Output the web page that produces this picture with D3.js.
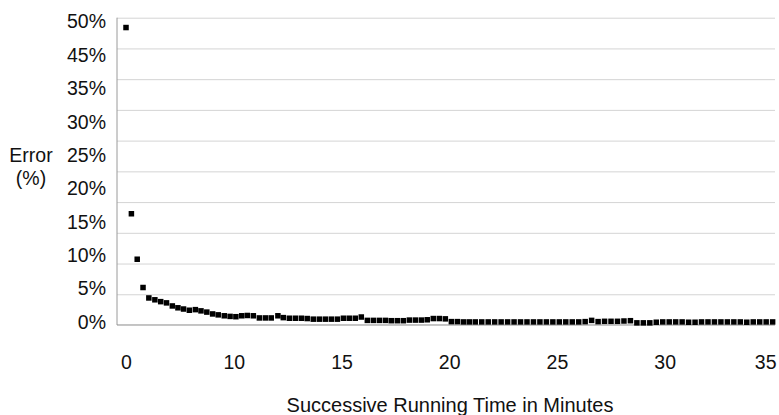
<!DOCTYPE html>
<html>
<head>
<meta charset="utf-8">
<script src="https://cdn.jsdelivr.net/npm/d3@7"></script>
<style>
  html, body { margin: 0; padding: 0; background: #fff; }
  svg { display: block; font-family: "Liberation Sans", Arial, sans-serif; }
  .grid line { stroke: #d4d4d4; stroke-width: 1; }
  .tick-label text { fill: #111; font-size: 19.5px; }
  .axis-title { fill: #111; }
</style>
</head>
<body>
<svg id="chart"></svg>
<script>
// Successive running time (minutes) and error (%)
const times = [
  0.00, 0.25, 0.52, 0.79, 1.06, 1.34, 1.61, 1.88, 2.15, 2.41,
  2.67, 2.94, 3.22, 3.48, 3.75, 4.02, 4.28, 4.56, 4.83, 5.10,
  5.37, 5.63, 5.91, 6.19, 6.47, 6.74, 7.05, 7.30, 7.58, 7.86,
  8.14, 8.41, 8.69, 8.97, 9.25, 9.53, 9.81, 10.09, 10.36, 10.64,
  10.92, 11.20, 11.48, 11.76, 12.04, 12.31, 12.59, 12.87, 13.15, 13.43,
  13.71, 13.98, 14.26, 14.54, 14.82, 15.10, 15.38, 15.66, 15.93, 16.21,
  16.51, 16.81, 17.11, 17.41, 17.71, 18.01, 18.31, 18.61, 18.91, 19.21,
  19.51, 19.81, 20.11, 20.41, 20.71, 21.01, 21.31, 21.61, 21.91, 22.21,
  22.51, 22.81, 23.11, 23.41, 23.71, 24.01, 24.31, 24.61, 24.91, 25.21,
  25.51, 25.81, 26.11, 26.41, 26.71, 27.01, 27.31, 27.61, 27.91, 28.21,
  28.51, 28.81, 29.11, 29.41, 29.71, 30.01
];
const errors = [
  48.4, 18.1, 10.7, 6.1, 4.4, 4.1, 3.8, 3.6, 3.1, 2.8,
  2.6, 2.4, 2.5, 2.3, 2.1, 1.8, 1.65, 1.5, 1.4, 1.35,
  1.5, 1.55, 1.5, 1.15, 1.15, 1.15, 1.5, 1.2, 1.1, 1.1,
  1.1, 1.05, 0.95, 0.95, 0.95, 0.95, 0.95, 1.1, 1.1, 1.1,
  1.3, 0.75, 0.75, 0.75, 0.75, 0.7, 0.7, 0.7, 0.8, 0.8,
  0.8, 0.85, 1.05, 1.05, 1.0, 0.55, 0.55, 0.5, 0.5, 0.5,
  0.5, 0.5, 0.5, 0.5, 0.5, 0.5, 0.5, 0.5, 0.5, 0.5,
  0.5, 0.5, 0.5, 0.5, 0.5, 0.5, 0.55, 0.75, 0.55, 0.6,
  0.6, 0.6, 0.65, 0.7, 0.35, 0.35, 0.35, 0.45, 0.5, 0.5,
  0.5, 0.5, 0.45, 0.45, 0.5, 0.5, 0.5, 0.5, 0.5, 0.5,
  0.5, 0.45, 0.5, 0.5, 0.5, 0.5
];

// tick labels exactly as printed on the original (they skip 40% and 5)
const xTickValues = [0, 5, 10, 15, 20, 25, 30];
const xTickLabels = ['0', '10', '15', '20', '25', '30', '35'];
const yGridValues = [5, 10, 15, 20, 25, 30, 35, 40, 45, 50];
const yTickLabels = ['50%', '45%', '35%', '30%', '25%', '20%', '15%', '10%', '5%', '0%'];

const xTitle = 'Successive Running Time in Minutes';
const yTitle = ['Error', '(%)'];

const config = {
  containerWidth: 779,
  containerHeight: 415,
  margin: {top: 17.7, right: 4, bottom: 90, left: 117},
  markerSize: 5.5
};

const width = config.containerWidth - config.margin.left - config.margin.right;
const height = config.containerHeight - config.margin.top - config.margin.bottom;

const svg = d3.select('#chart')
    .attr('width', config.containerWidth)
    .attr('height', config.containerHeight);

const chart = svg.append('g')
    .attr('transform', `translate(${config.margin.left},${config.margin.top})`);

// scales
const xScale = d3.scaleLinear()
    .domain([-0.418, 30.12])
    .range([0, width]);

const yScale = d3.scaleLinear()
    .domain([0, 50])
    .range([height, 0]);

// labels are spaced on their own, independent of the gridlines
const yLabelScale = d3.scalePoint()
    .domain(yTickLabels)
    .range([21.7 - config.margin.top, 322 - config.margin.top]);

// horizontal gridlines
chart.append('g')
    .attr('class', 'grid')
    .call(d3.axisLeft(yScale).tickValues(yGridValues).tickSize(-width).tickFormat(''))
    .call(g => g.select('.domain').remove());

// axis lines
chart.append('line')
    .attr('x1', 0).attr('x2', 0)
    .attr('y1', 0).attr('y2', height)
    .attr('stroke', '#9a9a9a');
chart.append('line')
    .attr('x1', 0).attr('x2', width)
    .attr('y1', yScale(0)).attr('y2', yScale(0))
    .attr('stroke', '#8a8a8a');

// y tick labels
chart.append('g')
    .attr('class', 'tick-label')
    .attr('transform', 'translate(-11,0)')
    .call(d3.axisLeft(yLabelScale).tickSize(0).tickPadding(0))
    .call(g => g.select('.domain').remove())
    .call(g => g.selectAll('text').attr('font-family', null).attr('font-size', null));

// x tick labels
const xAxisG = chart.append('g')
    .attr('class', 'tick-label')
    .attr('transform', `translate(0,${height})`)
    .call(d3.axisBottom(xScale)
        .tickValues(xTickValues)
        .tickSize(0)
        .tickPadding(30.5)
        .tickFormat((d, i) => xTickLabels[i]))
    .call(g => g.select('.domain').remove())
    .call(g => g.selectAll('text').attr('font-family', null).attr('font-size', null));

// last label would run off the page, keep it inside like the original
xAxisG.selectAll('.tick').filter((d, i, n) => i === n.length - 1)
    .select('text')
    .attr('text-anchor', 'end')
    .attr('x', width + 1 - xScale(xTickValues[xTickValues.length - 1]));

// points
chart.selectAll('.point')
    .data(times.map((t, i) => ({t: t, v: errors[i]})))
    .join('rect')
    .attr('class', 'point')
    .attr('x', d => xScale(d.t) - config.markerSize / 2)
    .attr('y', d => yScale(d.v) - config.markerSize / 2)
    .attr('width', config.markerSize)
    .attr('height', config.markerSize)
    .attr('fill', '#000');

// titles
svg.append('text')
    .attr('class', 'axis-title')
    .attr('x', 450)
    .attr('y', 411.5)
    .attr('text-anchor', 'middle')
    .attr('font-size', '20px')
    .text(xTitle);

svg.append('text')
    .attr('class', 'axis-title')
    .attr('x', 9.3)
    .attr('y', 161.7)
    .attr('font-size', '19.5px')
    .text(yTitle[0]);

svg.append('text')
    .attr('class', 'axis-title')
    .attr('x', 31)
    .attr('y', 185)
    .attr('text-anchor', 'middle')
    .attr('font-size', '19.5px')
    .text(yTitle[1]);
</script>
</body>
</html>
